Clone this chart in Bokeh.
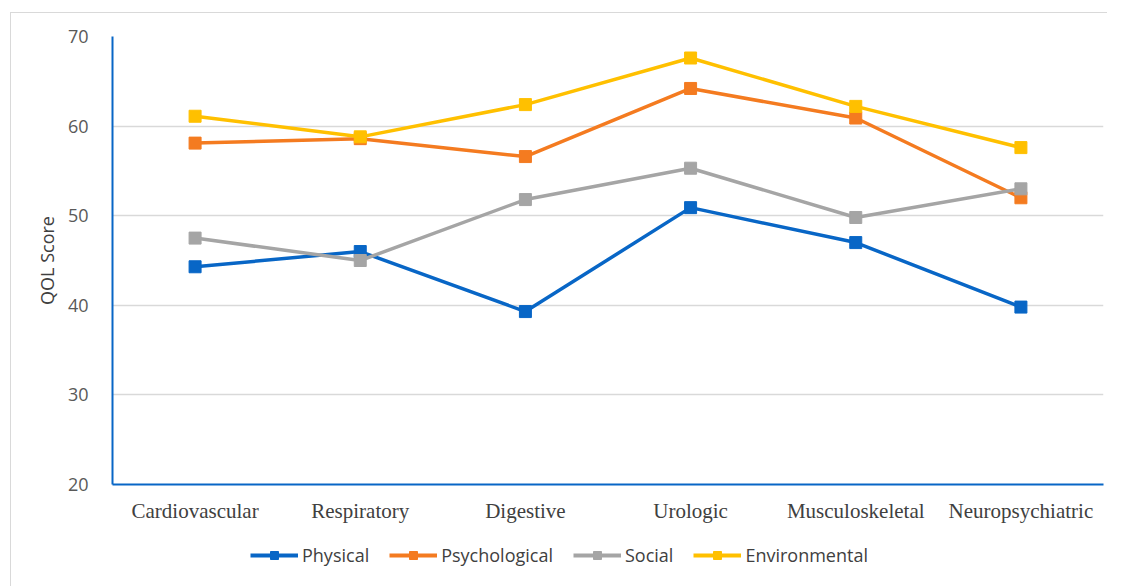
from bokeh.plotting import figure
from bokeh.layouts import column
from bokeh.embed import file_html
from bokeh.resources import INLINE
from bokeh.models import FixedTicker, Legend, LegendItem, FactorRange, Range1d

categories = ["Cardiovascular", "Respiratory", "Digestive", "Urologic", "Musculoskeletal", "Neuropsychiatric"]
physical = [44.3, 46.0, 39.3, 50.9, 47.0, 39.8]
psychological = [58.1, 58.6, 56.6, 64.2, 60.9, 52.0]
social = [47.5, 45.0, 51.8, 55.3, 49.8, 53.0]
environmental = [61.1, 58.8, 62.4, 67.6, 62.2, 57.6]
series_names = ["Physical", "Psychological", "Social", "Environmental"]
colors = ["#0866C6", "#F47B20", "#A5A5A5", "#FFC000"]
y_ticks = [20, 30, 40, 50, 60, 70]

p = figure(width=1096, height=517, x_range=FactorRange(*categories), y_range=Range1d(20, 70),
           output_backend="svg", toolbar_location=None,
           min_border_left=101, min_border_right=4, min_border_top=23, min_border_bottom=46)
p.outline_line_color = None
p.background_fill_color = "white"
p.border_fill_color = "white"

p.yaxis.ticker = FixedTicker(ticks=y_ticks)
p.ygrid.ticker = FixedTicker(ticks=y_ticks)
p.ygrid.grid_line_color = "#d9d9d9"
p.ygrid.grid_line_width = 1.5
p.xgrid.grid_line_color = None

p.yaxis.axis_line_color = "#0866C6"
p.yaxis.axis_line_width = 2
p.xaxis.axis_line_color = "#0866C6"
p.xaxis.axis_line_width = 2
for ax in (p.xaxis, p.yaxis):
    ax.major_tick_line_color = None
    ax.minor_tick_line_color = None
p.yaxis.major_label_text_font = "Open Sans"
p.yaxis.major_label_text_font_size = "18px"
p.yaxis.major_label_text_color = "#595959"
p.yaxis.major_label_standoff = 18
p.yaxis.axis_label = "QOL Score"
p.yaxis.axis_label_text_font = "Open Sans"
p.yaxis.axis_label_text_font_size = "18px"
p.yaxis.axis_label_text_font_style = "normal"
p.yaxis.axis_label_text_color = "#404040"
p.yaxis.axis_label_standoff = 6

p.xaxis.major_label_text_font = "Liberation Serif"
p.xaxis.major_label_text_font_size = "21px"
p.xaxis.major_label_text_color = "#404040"
p.xaxis.major_label_standoff = 8

series = [physical, psychological, social, environmental]
for name, vals, c in zip(series_names, series, colors):
    p.line(categories, vals, line_color=c, line_width=3.5)
    p.scatter(categories, vals, marker="square", size=12, fill_color=c, line_color=c)

# legend strip below the chart (series drawn outside its visible y range, only the legend shows)
lg = figure(width=1096, height=56, x_range=FactorRange(*categories), y_range=Range1d(100, 101),
            output_backend="svg", toolbar_location=None, min_border=0)
lg.axis.visible = False
lg.grid.grid_line_color = None
lg.outline_line_color = None
items = []
for name, vals, c in zip(series_names, series, colors):
    l = lg.line(categories, vals, line_color=c, line_width=4)
    s = lg.scatter(categories, vals, marker="square", size=13, fill_color=c, line_color=c)
    items.append(LegendItem(label=name, renderers=[l, s]))
legend = Legend(items=items, orientation="horizontal", location=(138, 19))
legend.label_text_font = "Open Sans"
legend.label_text_font_size = "18px"
legend.label_text_color = "#404040"
legend.glyph_width = 48
legend.glyph_height = 20
legend.label_height = 20
legend.label_standoff = 4
legend.spacing = 20
legend.border_line_color = None
legend.background_fill_alpha = 0
legend.margin = 0
legend.padding = 0
lg.add_layout(legend)

layout = column(p, lg, styles={"border-left": "1px solid #d9d9d9", "border-top": "1px solid #d9d9d9",
                               "margin-left": "10px", "margin-top": "12px"})
open("out.html", "w").write(file_html(layout, INLINE))
